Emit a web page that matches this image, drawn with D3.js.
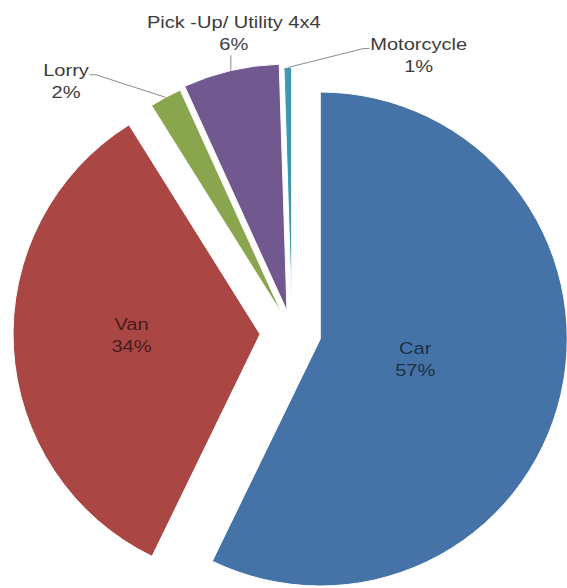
<!DOCTYPE html>
<html>
<head>
<meta charset="utf-8">
<script src="https://cdn.jsdelivr.net/npm/d3@7"></script>
<style>
	html, body { margin: 0; padding: 0; background: #fff; }
	svg { display: block; }
</style>
</head>
<body>
<svg id="chart" width="567" height="588"></svg>
<script>
// data
const CATEGORIES = ["Car", "Van", "Lorry", "Pick -Up/ Utility 4x4", "Motorcycle"];
const SHARES = [57.2, 33.9, 2.1, 6.3, 0.5];

// styles / layout
const SLICE_COLORS = ["#4572A7", "#AA4643", "#89A54E", "#71588F", "#4198AF"];
const EXPLODE = [29, 32, 20, 22, 18];
const CENTER = { x: 292, y: 332.5 };
const RADIUS = 247;
const FONT_SIZE = 17;
const LINE_H = 22;
const TEXT_STRETCH = 1.18;
// label block centre in polar coords round the pie centre (deg clockwise from 12 o'clock, radius as share of RADIUS)
const LABEL_LAYOUT = [
	{ angle: 102, r: 0.51, inside: true },
	{ angle: 269, r: 0.65, inside: true },
	{ angle: 318.1, r: 1.37, attach: "right" },
	{ angle: 349, r: 1.235, attach: "bottom" },
	{ angle: 24.5, r: 1.237, attach: "left" }
];

const polar = (a, r) => [Math.sin(a) * r, -Math.cos(a) * r];
const rad = (deg) => deg * Math.PI / 180;

const build = () => {
	let svg = d3.select("#chart");
	let g = svg.append("g")
		.attr("transform", "translate(" + CENTER.x + "," + CENTER.y + ")");

	let data = CATEGORIES.map((c, i) => ({ key: c, value: SHARES[i], index: i }));

	let pie = d3.pie()
		.sort(null)
		.value((d) => d.value);

	let arc = d3.arc()
		.innerRadius(0)
		.outerRadius(RADIUS);

	let arcs = pie(data);

	const offset = (d) => polar((d.startAngle + d.endAngle) / 2, EXPLODE[d.index]);

	// slices
	g.append("g")
		.selectAll("path")
		.data(arcs)
		.enter().append("path")
		.attr("transform", (d) => "translate(" + offset(d) + ")")
		.attr("d", arc)
		.attr("fill", (d) => SLICE_COLORS[d.index])
		.attr("stroke", "#fff")
		.attr("stroke-width", 1);

	// labels
	let labels = g.append("g")
		.attr("font-family", "'Liberation Sans', Arial, sans-serif")
		.attr("font-size", FONT_SIZE)
		.attr("text-anchor", "middle");

	let leaders = g.append("g")
		.attr("fill", "none")
		.attr("stroke", "#8a8a8a")
		.attr("stroke-width", 1);

	arcs.forEach((d) => {
		let lay = LABEL_LAYOUT[d.index];
		let [lx, ly] = polar(rad(lay.angle), lay.r * RADIUS);
		let b1 = ly - 4.9;

		let text = labels.append("text")
			.attr("transform", "translate(" + lx + "," + b1 + ") scale(" + TEXT_STRETCH + ",1)")
			.attr("fill", lay.inside ? "#000" : "#3c3c3c")
			.attr("fill-opacity", lay.inside ? 0.62 : 1);

		let first = text.append("tspan")
			.attr("x", 0)
			.attr("y", 0)
			.text(d.data.key);

		text.append("tspan")
			.attr("x", 0)
			.attr("y", LINE_H)
			.text(Math.round(d.data.value) + "%");

		if (lay.inside) return;

		let mid = (d.startAngle + d.endAngle) / 2;
		let [ox, oy] = offset(d);
		let [sx, sy] = polar(mid, RADIUS);
		sx += ox;
		sy += oy;

		let halfW = first.node().getComputedTextLength() * TEXT_STRETCH / 2;
		let pts;
		if (lay.attach === "bottom") {
			pts = [[sx, sy], [sx, b1 + LINE_H + 5]];
		} else if (lay.attach === "right") {
			pts = [[sx, sy], [lx + halfW + 7, b1 - 1], [lx + halfW + 1, b1 - 1]];
		} else {
			pts = [[sx, sy], [lx - halfW - 7, b1 - 1], [lx - halfW - 1, b1 - 1]];
		}

		leaders.append("path")
			.attr("d", d3.line()(pts));
	});
};

build();
</script>
</body>
</html>
